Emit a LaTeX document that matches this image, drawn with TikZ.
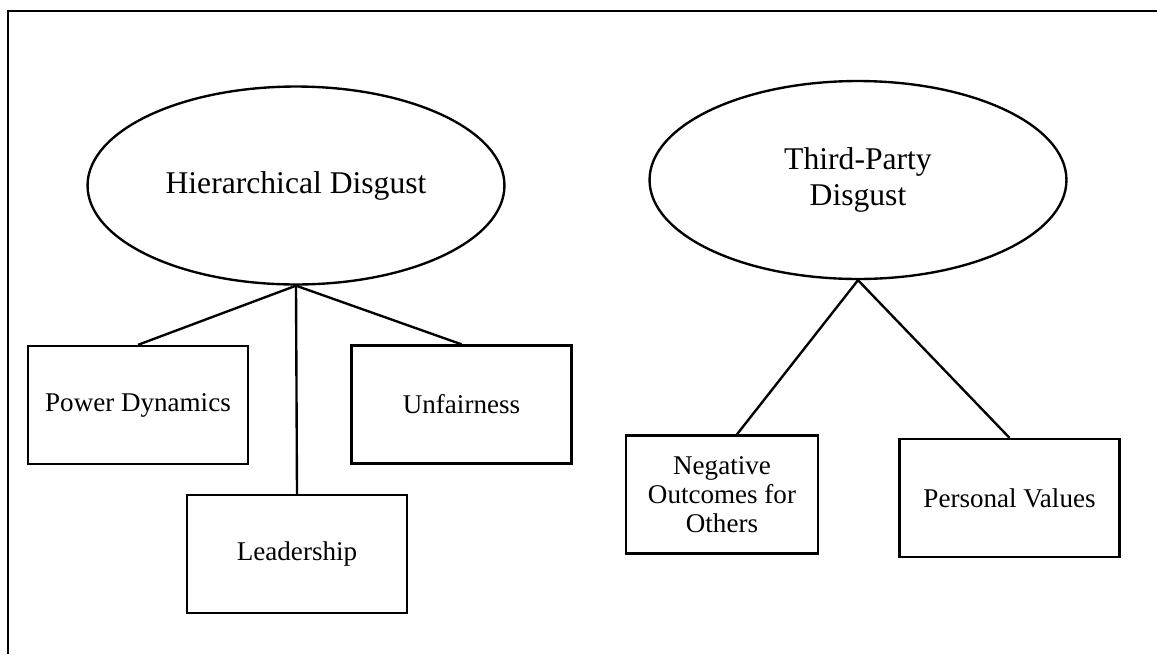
\documentclass[tikz,border=0pt]{standalone}
\usepackage{fontspec}
\setmainfont{Liberation Serif}
\usetikzlibrary{shapes.geometric}

\begin{document}
\begin{tikzpicture}[x=0.02cm, y=-0.02cm, line width=1.35pt,
  theme/.style={draw, ellipse, inner sep=0, minimum width=8.34cm, minimum height=3.96cm,
    align=center, font=\fontsize{18}{20.5}\selectfont},
  facet/.style={draw, rectangle, inner sep=0, minimum width=4.4cm, minimum height=2.36cm,
    align=center, font=\fontsize{15.4}{16.6}\selectfont}]
  \useasboundingbox (0,0) rectangle (1157,654);
  \draw (1157,11) -- (8,11) -- (8,654);

  \node[theme] (hier) at (296,185.5) {Hierarchical Disgust};
  \node[theme] (third) at (858,180) {Third-Party\\Disgust};

  \node[facet] (power) at (138,405) {Power Dynamics};
  \node[facet] (unfair) at (461.5,404.5) {Unfairness};
  \node[facet] (lead) at (297,554) {Leadership};
  \node[facet, minimum width=3.84cm] (negout) at (722,494.5) {Negative\\Outcomes for\\Others};
  \node[facet] (values) at (1009.5,498) {Personal Values};

  \draw (hier.south) -- (power.north);
  \draw (hier.south) -- (lead.north);
  \draw (hier.south) -- (unfair.north);
  \draw (third.south) -- ([xshift=0.3cm]negout.north);
  \draw (third.south) -- (values.north);
\end{tikzpicture}
\end{document}
